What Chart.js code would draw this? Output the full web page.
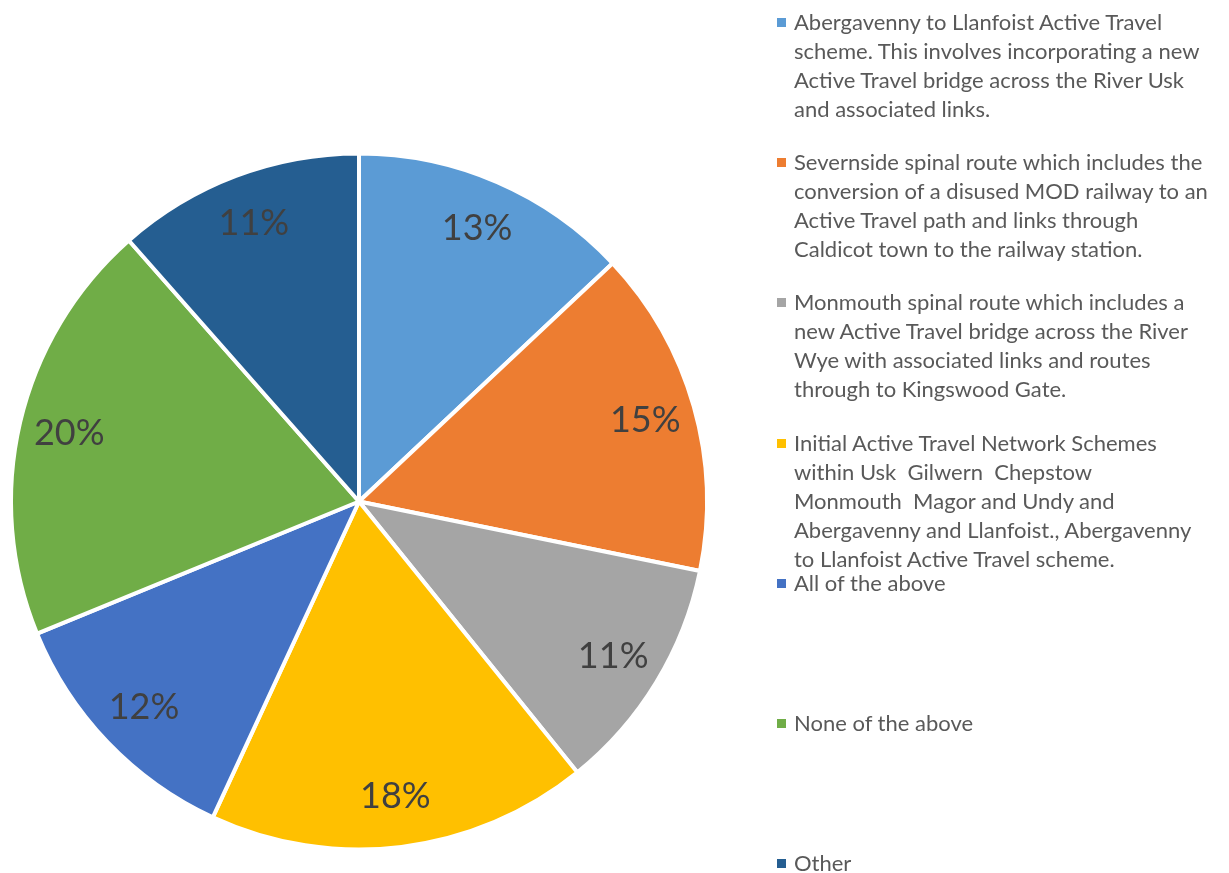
<!DOCTYPE html>
<html>
<head>
<meta charset="utf-8">
<script src="https://cdn.jsdelivr.net/npm/chart.js@4"></script>
<style>
    html, body { margin: 0; padding: 0; background: #fff; }
    #wrap { position: relative; width: 1229px; height: 873px; overflow: hidden; }
    #pieChart { position: absolute; left: 0; top: 0; }
    .legend-item { position: absolute; left: 777px; font-family: Lato, sans-serif; font-size: 22px; line-height: 29px; color: #595959; white-space: pre; }
    .legend-item .box { position: absolute; left: 0; top: 11px; width: 9px; height: 9px; }
    .legend-item .txt { margin-left: 17px; }
</style>
</head>
<body>
<div id="wrap">
    <canvas id="pieChart" width="1229" height="873"></canvas>
    <div id="legend"></div>
</div>
<script>
// Categorías (con los saltos de línea de la leyenda original)
const labels = [
    'Abergavenny to Llanfoist Active Travel\nscheme. This involves incorporating a new\nActive Travel bridge across the River Usk\nand associated links.',
    'Severnside spinal route which includes the\nconversion of a disused MOD railway to an\nActive Travel path and links through\nCaldicot town to the railway station.',
    'Monmouth spinal route which includes a\nnew Active Travel bridge across the River\nWye with associated links and routes\nthrough to Kingswood Gate.',
    'Initial Active Travel Network Schemes\nwithin Usk  Gilwern  Chepstow\nMonmouth  Magor and Undy and\nAbergavenny and Llanfoist., Abergavenny\nto Llanfoist Active Travel scheme.',
    'All of the above',
    'None of the above',
    'Other'
];

// Porcentajes estimados de la imagen
const values = [13.0, 15.2, 11.0, 17.7, 11.9, 19.7, 11.5];

const colors = ['#5B9BD5', '#ED7D31', '#A5A5A5', '#FFC000', '#4472C4', '#70AD47', '#255E91'];

// Etiquetas de porcentaje dentro de cada porción
const pctLabels = {
    id: 'pctLabels',
    afterDatasetsDraw(chart) {
        const ctx = chart.ctx;
        const meta = chart.getDatasetMeta(0);
        const total = values.reduce((a, b) => a + b, 0);
        ctx.save();
        ctx.font = '36px Lato';
        ctx.fillStyle = '#404040';
        ctx.textAlign = 'center';
        ctx.textBaseline = 'middle';
        meta.data.forEach((arc, i) => {
            const p = arc.getProps(['x', 'y', 'startAngle', 'endAngle', 'outerRadius'], true);
            const mid = (p.startAngle + p.endAngle) / 2;
            const r = p.outerRadius * 0.855;
            ctx.fillText(Math.round(values[i] / total * 100) + '%', p.x + Math.cos(mid) * r, p.y + Math.sin(mid) * r);
        });
        ctx.restore();
    }
};

const chart = new Chart(document.getElementById('pieChart'), {
    type: 'pie',
    data: {
        labels: labels,
        datasets: [{
            data: values,
            backgroundColor: colors,
            borderColor: '#ffffff',
            borderWidth: 4
        }]
    },
    options: {
        responsive: false,
        animation: false,
        radius: 348,
        layout: { padding: { left: 12, top: 154, right: 523, bottom: 24 } },
        plugins: {
            legend: { display: false },
            tooltip: { enabled: false }
        }
    },
    plugins: [pctLabels]
});

// Leyenda a la derecha (HTML, para poder partir el texto en líneas)
const legendEl = document.getElementById('legend');
labels.forEach((text, i) => {
    const item = document.createElement('div');
    item.className = 'legend-item';
    item.style.top = (7 + i * 140.2) + 'px';
    const box = document.createElement('span');
    box.className = 'box';
    box.style.background = colors[i];
    const txt = document.createElement('div');
    txt.className = 'txt';
    txt.textContent = text;
    item.appendChild(box);
    item.appendChild(txt);
    legendEl.appendChild(item);
});
</script>
</body>
</html>
